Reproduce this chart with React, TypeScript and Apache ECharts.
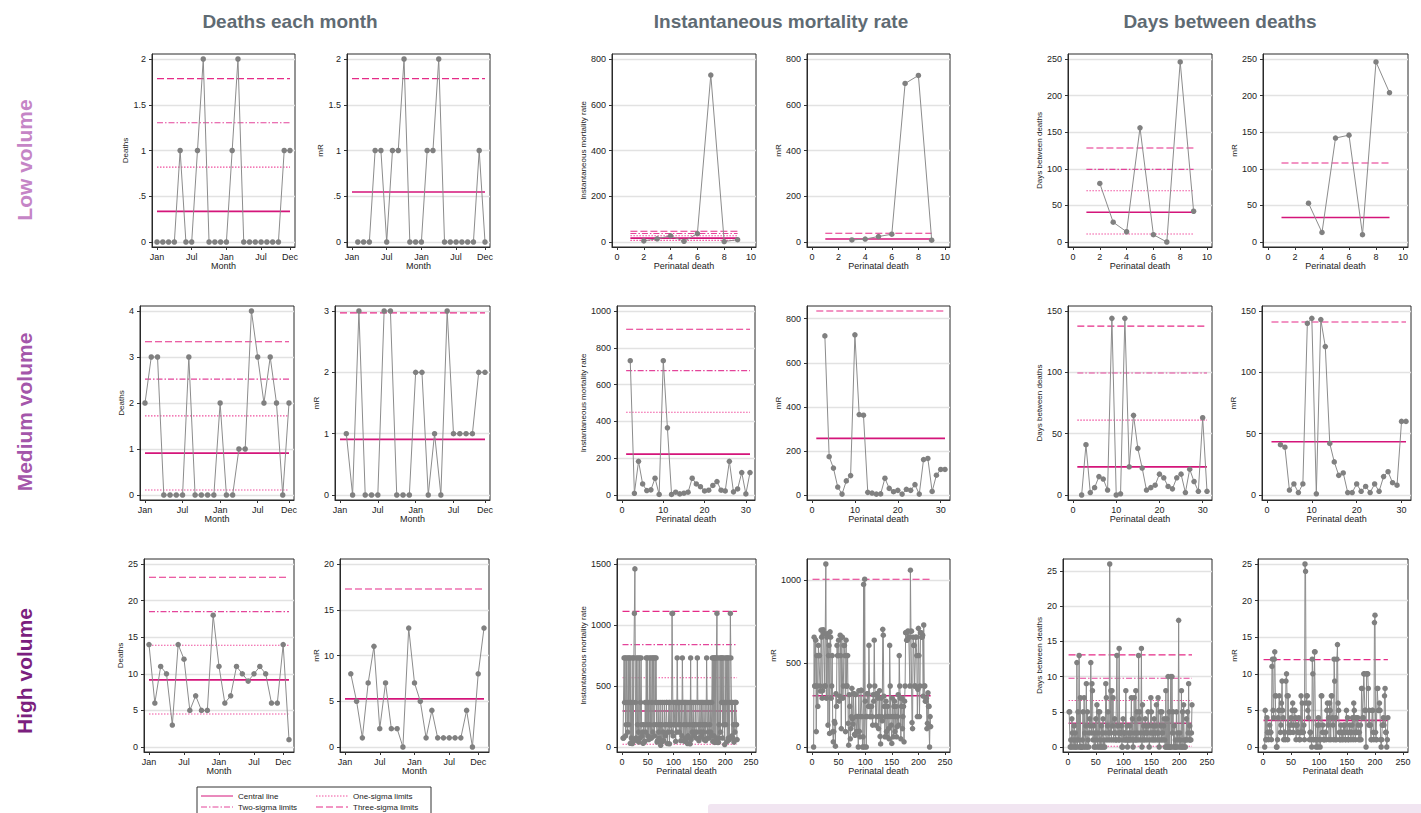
import React, { useEffect, useRef } from "react";
import * as echarts from "echarts";

const FONT = '"Liberation Sans", Arial, Helvetica, sans-serif';

// ---------- headings ----------
const columnTitles = ["Deaths each month", "Instantaneous mortality rate", "Days between deaths"];
const rowTitles = ["Low volume", "Medium volume", "High volume"];
const legendLabels = ["Central line", "One-sigma limits", "Two-sigma limits", "Three-sigma limits"];

// ---------- axis ticks ----------
const monthTicks = [0, 6, 12, 18, 23];
const monthTickLabels = ["Jan", "Jul", "Jan", "Jul", "Dec"];
const deathTicksLow = [0, 2, 4, 6, 8, 10];
const deathTicksMed = [0, 10, 20, 30];
const deathTicksHigh = [0, 50, 100, 150, 200, 250];
const yt2 = [0, 0.5, 1, 1.5, 2];
const yt800 = [0, 200, 400, 600, 800];
const yt250 = [0, 50, 100, 150, 200, 250];
const yt4 = [0, 1, 2, 3, 4];
const yt3 = [0, 1, 2, 3];
const yt1000 = [0, 200, 400, 600, 800, 1000];
const yt150 = [0, 50, 100, 150];
const yt25 = [0, 5, 10, 15, 20, 25];
const yt20 = [0, 5, 10, 15, 20];
const yt1500 = [0, 500, 1000, 1500];
const ytK = [0, 500, 1000];

// ---------- LOW volume ----------
const deathsLow = [0, 0, 0, 0, 1, 0, 0, 1, 2, 0, 0, 0, 0, 1, 2, 0, 0, 0, 0, 0, 0, 0, 1, 1];
const mrDeathsLow = [0, 0, 0, 1, 1, 0, 1, 1, 2, 0, 0, 0, 1, 1, 2, 0, 0, 0, 0, 0, 0, 1, 0];
const imrLow = [5, 14, 27, 3, 37, 730, 2, 10];
const mrImrLow = [9, 13, 24, 34, 693, 728, 8];
const daysLow = [80, 27, 14, 156, 10, 0, 246, 42];
const mrDaysLow = [53, 13, 142, 146, 10, 246, 204];

// ---------- MEDIUM volume ----------
const deathsMed = [2, 3, 3, 0, 0, 0, 0, 3, 0, 0, 0, 0, 2, 0, 0, 1, 1, 4, 3, 2, 3, 2, 0, 2];
const mrDeathsMed = [1, 0, 3, 0, 0, 0, 3, 3, 0, 0, 0, 2, 2, 0, 1, 0, 3, 1, 1, 1, 1, 2, 2];
const imrMed = [730, 9, 183, 60, 24, 28, 91, 3, 730, 365, 3, 15, 6, 10, 15, 91, 60, 45, 22, 26, 52, 73, 26, 22, 183, 17, 33, 122, 6, 122];
const mrImrMed = [722, 174, 122, 36, 4, 64, 88, 727, 365, 362, 12, 9, 4, 5, 76, 30, 15, 21, 4, 26, 21, 47, 4, 161, 166, 16, 90, 116, 116];
const daysMed = [0, 41, 2, 6, 15, 13, 4, 144, 0, 1, 144, 23, 65, 38, 22, 4, 6, 8, 17, 14, 7, 5, 14, 17, 2, 21, 11, 3, 63, 3];
const mrDaysMed = [41, 39, 4, 9, 2, 9, 140, 144, 1, 143, 121, 42, 27, 16, 18, 2, 2, 9, 3, 7, 2, 9, 3, 15, 19, 10, 8, 60, 60];

// ---------- HIGH volume ----------
const deathsHigh = [14, 6, 11, 10, 3, 14, 12, 5, 7, 5, 5, 18, 11, 6, 7, 11, 10, 9, 10, 11, 10, 6, 6, 14, 1];
const mrDeathsHigh = [8, 5, 1, 7, 11, 2, 7, 2, 2, 0, 13, 7, 5, 1, 4, 1, 1, 1, 1, 1, 4, 0, 8, 13];
const imrHigh = [
  73, 73, 730, 365, 730, 91, 183, 730, 365, 122,
  730, 183, 730, 365, 30, 730, 73, 365, 28, 730,
  52, 730, 1095, 1460, 365, 73, 730, 52, 183, 730,
  122, 41, 730, 73, 365, 730, 183, 91, 122, 30,
  183, 41, 46, 365, 122, 730, 183, 730, 91, 365,
  61, 730, 183, 73, 730, 73, 365, 730, 122, 730,
  183, 91, 730, 365, 730, 183, 41, 52, 365, 122,
  73, 183, 365, 14, 183, 46, 365, 46, 122, 52,
  365, 183, 91, 183, 365, 365, 28, 122, 183, 365,
  26, 365, 183, 183, 122, 1095, 1095, 91, 365, 183,
  183, 365, 46, 365, 122, 730, 365, 183, 365, 122,
  365, 183, 52, 365, 91, 730, 365, 52, 183, 365,
  46, 365, 73, 183, 365, 28, 91, 73, 365, 183,
  26, 730, 61, 365, 122, 183, 365, 91, 183, 122,
  365, 183, 73, 122, 730, 365, 183, 52, 73, 365,
  183, 122, 365, 91, 183, 365, 122, 61, 183, 365,
  52, 183, 730, 365, 73, 122, 365, 73, 183, 365,
  122, 91, 365, 730, 46, 730, 91, 730, 37, 730,
  73, 730, 1095, 37, 730, 37, 183, 73, 730, 122,
  730, 365, 730, 73, 730, 183, 365, 20, 730, 183,
  365, 730, 46, 730, 73, 730, 61, 365, 1095, 730,
  365, 91, 365, 73, 183, 41, 365, 122, 365, 365,
  183, 61,
];
const mrImrHigh = [
  0, 657, 365, 365, 639, 92, 547, 365, 243, 608,
  547, 547, 365, 335, 700, 657, 292, 337, 702, 678,
  678, 365, 365, 1095, 292, 657, 678, 131, 547, 608,
  81, 689, 657, 292, 365, 547, 92, 31, 92, 153,
  142, 5, 319, 243, 608, 547, 547, 639, 274, 304,
  669, 547, 110, 657, 657, 292, 365, 608, 608, 547,
  92, 639, 365, 365, 547, 142, 11, 313, 243, 49,
  110, 182, 351, 169, 137, 319, 319, 76, 70, 313,
  182, 92, 92, 182, 0, 337, 94, 61, 182, 339,
  339, 182, 0, 61, 973, 0, 1004, 274, 182, 0,
  182, 319, 319, 243, 608, 365, 182, 182, 243, 243,
  182, 131, 313, 274, 639, 365, 313, 131, 182, 319,
  319, 292, 110, 182, 337, 63, 18, 292, 182, 157,
  704, 669, 304, 243, 61, 182, 274, 92, 61, 243,
  182, 110, 49, 608, 365, 182, 131, 21, 292, 182,
  61, 243, 274, 92, 182, 243, 61, 122, 182, 313,
  131, 547, 365, 292, 49, 243, 292, 110, 182, 243,
  31, 274, 365, 684, 684, 639, 639, 693, 693, 657,
  657, 365, 1058, 693, 693, 146, 110, 657, 608, 608,
  365, 365, 657, 657, 547, 182, 345, 710, 547, 182,
  365, 684, 684, 657, 657, 669, 304, 730, 365, 365,
  274, 274, 292, 110, 142, 324, 243, 243, 0, 182,
  122,
];
const daysHigh = [
  5, 5, 0, 1, 0, 4, 2, 0, 1, 3,
  0, 2, 0, 1, 12, 0, 5, 1, 13, 0,
  7, 0, 0, 0, 1, 5, 0, 7, 2, 0,
  3, 9, 0, 5, 1, 0, 2, 4, 3, 12,
  2, 9, 8, 1, 3, 0, 2, 0, 4, 1,
  6, 0, 2, 5, 0, 5, 1, 0, 3, 0,
  2, 4, 0, 1, 0, 2, 9, 7, 1, 3,
  5, 2, 1, 26, 2, 8, 1, 8, 3, 7,
  1, 2, 4, 2, 1, 1, 13, 3, 2, 1,
  14, 1, 2, 2, 3, 0, 0, 4, 1, 2,
  2, 1, 8, 1, 3, 0, 1, 2, 1, 3,
  1, 2, 7, 1, 4, 0, 1, 7, 2, 1,
  8, 1, 5, 2, 1, 13, 4, 5, 1, 2,
  14, 0, 6, 1, 3, 2, 1, 4, 2, 3,
  1, 2, 5, 3, 0, 1, 2, 7, 5, 1,
  2, 3, 1, 4, 2, 1, 3, 6, 2, 1,
  7, 2, 0, 1, 5, 3, 1, 5, 2, 1,
  3, 4, 1, 0, 8, 0, 4, 0, 10, 0,
  5, 0, 0, 10, 0, 10, 2, 5, 0, 3,
  0, 1, 0, 5, 0, 2, 1, 18, 0, 2,
  1, 0, 8, 0, 5, 0, 6, 1, 0, 0,
  1, 4, 1, 5, 2, 9, 1, 3, 1, 1,
  2, 6,
];
const mrDaysHigh = [
  0, 5, 1, 1, 4, 2, 2, 1, 2, 3,
  2, 2, 1, 11, 12, 5, 4, 12, 13, 7,
  7, 0, 0, 1, 4, 5, 7, 5, 2, 3,
  6, 9, 5, 4, 1, 2, 2, 1, 9, 10,
  7, 1, 7, 2, 3, 2, 2, 4, 3, 5,
  6, 2, 3, 5, 5, 4, 1, 3, 3, 2,
  2, 4, 1, 1, 2, 7, 2, 6, 2, 2,
  3, 1, 25, 24, 6, 7, 7, 5, 4, 6,
  1, 2, 2, 1, 0, 12, 10, 1, 1, 13,
  13, 1, 0, 1, 3, 0, 4, 3, 1, 0,
  1, 7, 7, 2, 3, 1, 1, 1, 2, 2,
  1, 5, 6, 3, 4, 1, 6, 5, 1, 7,
  7, 4, 3, 1, 12, 9, 1, 4, 1, 12,
  14, 6, 5, 2, 1, 1, 3, 2, 1, 2,
  1, 3, 2, 3, 1, 1, 5, 2, 4, 1,
  1, 2, 3, 2, 1, 2, 3, 4, 1, 6,
  5, 2, 1, 4, 2, 2, 4, 3, 1, 2,
  1, 3, 1, 8, 8, 4, 4, 10, 10, 5,
  5, 0, 10, 10, 10, 8, 3, 5, 3, 3,
  1, 1, 5, 5, 2, 1, 17, 18, 2, 1,
  1, 8, 8, 5, 5, 6, 5, 1, 0, 1,
  3, 3, 4, 3, 7, 8, 2, 2, 0, 1,
  4,
];

// ---------- control limits: [central, +1 sigma, +2 sigma, +3 sigma, -1 sigma] ----------
const limDeathsLow = [0.335, 0.818, 1.303, 1.785, null];
const limMrDeathsLow = [0.547, null, null, 1.785, null];
const limImrLow = [17, 27, 37, 47, 7];
const limMrImrLow = [13, null, null, 38, null];
const limDaysLow = [40.7, 70, 99.2, 128.4, 11];
const limMrDaysLow = [33.4, null, null, 108, null];
const limDeathsMed = [0.91, 1.72, 2.52, 3.33, 0.11];
const limMrDeathsMed = [0.907, null, null, 2.97, null];
const limImrMed = [222, 450, 676, 901, null];
const limMrImrMed = [257, null, null, 835, null];
const limDaysMed = [22.9, 61, 99.5, 137.7, null];
const limMrDaysMed = [43.4, null, null, 141, null];
const limDeathsHigh = [9.17, 13.9, 18.5, 23.2, 4.5];
const limMrDeathsHigh = [5.26, null, null, 17.26, null];
const limImrHigh = [295, 568, 839, 1112, 22];
const limMrImrHigh = [307, null, null, 1004, null];
const limDaysHigh = [3.37, 6.6, 9.77, 13.09, 0.1];
const limMrDaysHigh = [3.64, null, null, 11.93, null];

// ---------- styles ----------
const limitStyles = [
  { color: "#d4157a", type: "solid", width: 1.6 },
  { color: "#f0509f", type: [1.5, 1.5], width: 1.1 },
  { color: "#e4449a", type: [6, 2, 1.5, 2], width: 1.1 },
  { color: "#e52b87", type: [7, 3], width: 1.1 },
  { color: "#f0509f", type: [1.5, 1.5], width: 1.1 },
];

type Panel = {
  box: [number, number, number, number];
  xr: [number, number];
  yr: [number, number];
  xt: number[];
  yt: number[];
  month: boolean;
  yName: string;
  yGap: number;
  x0: number;
  data: number[];
  lim: (number | null)[];
  span: [number, number];
};

const R1: [number, number] = [54, 247];
const R2: [number, number] = [306, 500];
const R3: [number, number] = [559, 752];
const IMR = "Instantaneous mortality rate";
const DBD = "Days between deaths";

const panels: Panel[] = [
  { box: [152, R1[0], 295, R1[1]], xr: [0, 23], yr: [0, 2], xt: monthTicks, yt: yt2, month: true, yName: "Deaths", yGap: 22, x0: 0, data: deathsLow, lim: limDeathsLow, span: [0, 23] },
  { box: [347, R1[0], 490, R1[1]], xr: [0, 23], yr: [0, 2], xt: monthTicks, yt: yt2, month: true, yName: "mR", yGap: 21, x0: 1, data: mrDeathsLow, lim: limMrDeathsLow, span: [0, 23] },
  { box: [612, R1[0], 756, R1[1]], xr: [0, 10], yr: [0, 800], xt: deathTicksLow, yt: yt800, month: false, yName: IMR, yGap: 23, x0: 2, data: imrLow, lim: limImrLow, span: [1, 9] },
  { box: [807, R1[0], 950, R1[1]], xr: [0, 10], yr: [0, 800], xt: deathTicksLow, yt: yt800, month: false, yName: "mR", yGap: 22, x0: 3, data: mrImrLow, lim: limMrImrLow, span: [1, 9] },
  { box: [1068, R1[0], 1212, R1[1]], xr: [0, 10], yr: [0, 250], xt: deathTicksLow, yt: yt250, month: false, yName: DBD, yGap: 23, x0: 2, data: daysLow, lim: limDaysLow, span: [1, 9] },
  { box: [1263, R1[0], 1408, R1[1]], xr: [0, 10], yr: [0, 250], xt: deathTicksLow, yt: yt250, month: false, yName: "mR", yGap: 22, x0: 3, data: mrDaysLow, lim: limMrDaysLow, span: [1, 9] },

  { box: [140, R2[0], 294, R2[1]], xr: [0, 23], yr: [0, 4], xt: monthTicks, yt: yt4, month: true, yName: "Deaths", yGap: 14, x0: 0, data: deathsMed, lim: limDeathsMed, span: [0, 23] },
  { box: [335, R2[0], 490, R2[1]], xr: [0, 23], yr: [0, 3], xt: monthTicks, yt: yt3, month: true, yName: "mR", yGap: 12.5, x0: 1, data: mrDeathsMed, lim: limMrDeathsMed, span: [0, 23] },
  { box: [617, R2[0], 755, R2[1]], xr: [0, 31], yr: [0, 1000], xt: deathTicksMed, yt: yt1000, month: false, yName: IMR, yGap: 29, x0: 2, data: imrMed, lim: limImrMed, span: [1, 31] },
  { box: [807, R2[0], 950, R2[1]], xr: [0, 31], yr: [0, 835], xt: deathTicksMed, yt: yt800, month: false, yName: "mR", yGap: 22, x0: 3, data: mrImrMed, lim: limMrImrMed, span: [1, 31] },
  { box: [1068, R2[0], 1212, R2[1]], xr: [0, 31], yr: [0, 150], xt: deathTicksMed, yt: yt150, month: false, yName: DBD, yGap: 23, x0: 2, data: daysMed, lim: limDaysMed, span: [1, 31] },
  { box: [1262, R2[0], 1411, R2[1]], xr: [0, 31], yr: [0, 150], xt: deathTicksMed, yt: yt150, month: false, yName: "mR", yGap: 21, x0: 3, data: mrDaysMed, lim: limMrDaysMed, span: [1, 31] },

  { box: [144, R3[0], 294, R3[1]], xr: [0, 24], yr: [0, 25], xt: monthTicks, yt: yt25, month: true, yName: "Deaths", yGap: 18, x0: 0, data: deathsHigh, lim: limDeathsHigh, span: [0, 24] },
  { box: [340, R3[0], 489, R3[1]], xr: [0, 24], yr: [0, 20], xt: monthTicks, yt: yt20, month: true, yName: "mR", yGap: 17.5, x0: 1, data: mrDeathsHigh, lim: limMrDeathsHigh, span: [0, 24] },
  { box: [617, R3[0], 756, R3[1]], xr: [0, 250], yr: [0, 1500], xt: deathTicksHigh, yt: yt1500, month: false, yName: IMR, yGap: 29, x0: 2, data: imrHigh, lim: limImrHigh, span: [1, 223] },
  { box: [807, R3[0], 950, R3[1]], xr: [0, 250], yr: [0, 1095], xt: deathTicksHigh, yt: ytK, month: false, yName: "mR", yGap: 22, x0: 3, data: mrImrHigh, lim: limMrImrHigh, span: [1, 223] },
  { box: [1063, R3[0], 1212, R3[1]], xr: [0, 250], yr: [0, 26], xt: deathTicksHigh, yt: yt25, month: false, yName: DBD, yGap: 18.5, x0: 2, data: daysHigh, lim: limDaysHigh, span: [1, 223] },
  { box: [1258, R3[0], 1408, R3[1]], xr: [0, 250], yr: [0, 25], xt: deathTicksHigh, yt: yt25, month: false, yName: "mR", yGap: 17, x0: 3, data: mrDaysHigh, lim: limMrDaysHigh, span: [1, 223] },
];

const PAD = 5;

function fmtY(v: number) {
  const s = String(v);
  return s.startsWith("0.") ? s.slice(1) : s;
}

function buildOption() {
  const grid: any[] = [];
  const xAxis: any[] = [];
  const yAxis: any[] = [];
  const series: any[] = [];
  panels.forEach((p, i) => {
    const [L, T, R, B] = p.box;
    const sx = (R - L - 2 * PAD) / (p.xr[1] - p.xr[0]);
    const sy = (B - T - 2 * PAD) / (p.yr[1] - p.yr[0]);
    grid.push({
      left: L, top: T, width: R - L, height: B - T,
      show: true, borderColor: "#2a2a2a", borderWidth: 1, backgroundColor: "#ffffff",
      containLabel: false, outerBoundsMode: "none",
    });
    xAxis.push({
      type: "value", gridIndex: i,
      min: p.xr[0] - PAD / sx, max: p.xr[1] + PAD / sx,
      name: p.month ? "Month" : "Perinatal death",
      nameLocation: "middle", nameGap: 13,
      nameTextStyle: { fontSize: 9, color: "#222", fontFamily: FONT },
      axisLine: { show: true, onZero: false, lineStyle: { color: "#2a2a2a", width: 1 } },
      axisTick: { show: true, length: 3, customValues: p.xt, lineStyle: { color: "#333" } },
      axisLabel: {
        customValues: p.xt, margin: 5, fontSize: 9, color: "#222", fontFamily: FONT,
        formatter: p.month
          ? (v: number) => { const k = monthTicks.indexOf(v); return k >= 0 ? monthTickLabels[k] : ""; }
          : (v: number) => String(v),
      },
      splitLine: { show: false },
    });
    yAxis.push({
      type: "value", gridIndex: i,
      min: p.yr[0] - PAD / sy, max: p.yr[1] + PAD / sy,
      name: p.yName, nameLocation: "middle", nameRotate: 90, nameGap: p.yGap,
      nameTextStyle: { fontSize: 8, color: "#222", fontFamily: FONT },
      axisLine: { show: true, onZero: false, lineStyle: { color: "#2a2a2a", width: 1 } },
      axisTick: { show: true, length: 3, customValues: p.yt, lineStyle: { color: "#333" } },
      axisLabel: { customValues: p.yt, margin: 6, fontSize: 9, color: "#222", fontFamily: FONT, formatter: fmtY },
      splitLine: { show: true, lineStyle: { color: "#e2e2e2", width: 1.3 } },
    });
    p.lim.forEach((v, k) => {
      if (v === null) return;
      const st = limitStyles[k];
      series.push({
        type: "line", xAxisIndex: i, yAxisIndex: i, silent: true, symbol: "none", z: 2,
        data: [[p.span[0], v], [p.span[1], v]],
        lineStyle: { color: st.color, type: st.type, width: st.width },
      });
    });
    series.push({
      type: "line", xAxisIndex: i, yAxisIndex: i, z: 3,
      data: p.data.map((v, j) => [p.x0 + j, v]),
      symbol: "circle", symbolSize: 5.5,
      itemStyle: { color: "#808080" },
      lineStyle: { color: "#8c8c8c", width: 1 },
    });
  });

  const graphic: any[] = [];
  const titleX = [290, 781, 1220];
  columnTitles.forEach((t, k) => {
    graphic.push({
      type: "text", x: titleX[k], y: 21,
      style: { text: t, font: `bold 19px ${FONT}`, fill: "#5f6b73", textAlign: "center", textVerticalAlign: "middle" },
    });
  });
  const rowY = [160, 412, 671];
  const rowColors = ["#c585c6", "#a456aa", "#7b1f7e"];
  rowTitles.forEach((t, k) => {
    graphic.push({
      type: "text", x: 24, y: rowY[k], rotation: Math.PI / 2,
      style: { text: t, font: `bold 21px ${FONT}`, fill: rowColors[k], textAlign: "center", textVerticalAlign: "middle" },
    });
  });

  // legend box
  graphic.push({
    type: "rect", shape: { x: 197, y: 787, width: 234, height: 32 },
    style: { fill: "#fff", stroke: "#333", lineWidth: 1 },
  });
  const legPos = [
    [201, 796, 0], [316, 796, 1], [201, 807, 2], [316, 807, 3],
  ];
  legPos.forEach(([lx, ly, k], n) => {
    const st = limitStyles[k];
    graphic.push({
      type: "line", shape: { x1: lx, y1: ly, x2: lx + 32, y2: ly },
      style: { stroke: st.color, lineWidth: 1, lineDash: st.type === "solid" ? null : st.type },
    });
    graphic.push({
      type: "text", x: lx + 37, y: ly,
      style: { text: legendLabels[n], font: `8px ${FONT}`, fill: "#222", textAlign: "left", textVerticalAlign: "middle" },
    });
  });
  // decorative band at the bottom right
  graphic.push({
    type: "rect", shape: { x: 708, y: 804, width: 720, height: 14, r: [3, 0, 0, 0] },
    style: { fill: "#f1e5f1" },
  });

  return {
    animation: false,
    backgroundColor: "#ffffff",
    grid, xAxis, yAxis, series, graphic,
  };
}

export default function App() {
  const ref = useRef<HTMLDivElement>(null);
  useEffect(() => {
    if (!ref.current) return;
    const chart = echarts.init(ref.current, undefined, { renderer: "svg" });
    chart.setOption(buildOption() as any);
    return () => chart.dispose();
  }, []);
  return (
    <div
      ref={ref}
      style={{ position: "absolute", left: 0, top: 0, width: 1421, height: 813, background: "#fff" }}
    />
  );
}
